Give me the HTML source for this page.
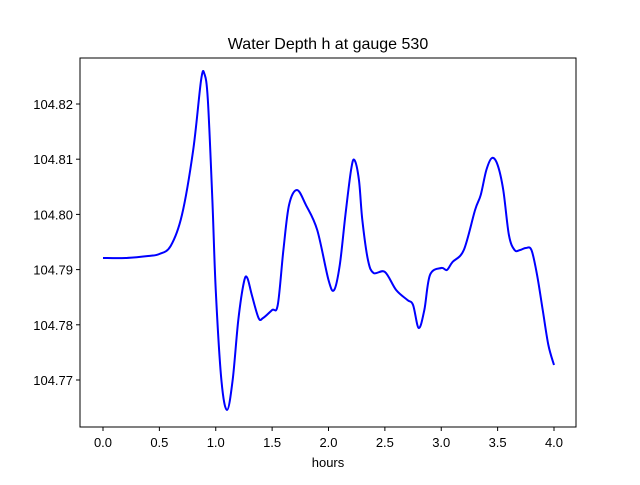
<!DOCTYPE html>
<html><head><meta charset="utf-8"><style>
body{margin:0;background:#fff;}
svg{font-family:"Liberation Sans","DejaVu Sans",sans-serif;}
</style></head><body>
<svg id="chart" width="640" height="480" xmlns="http://www.w3.org/2000/svg">
<rect width="640" height="480" fill="#fff"/>
<text x="328" y="49" text-anchor="middle" font-size="16">Water Depth h at gauge 530</text>
<g id="ticks"></g>
<path id="series" fill="none" stroke="#0000ff" stroke-width="2"/>
<rect x="80" y="58" width="496" height="369" fill="none" stroke="#000" stroke-width="1"/>
<text x="328" y="467" text-anchor="middle" font-size="13">hours</text>
</svg>
<script>
const hours=[0,0.2,0.4,0.5,0.6,0.7,0.8,0.87,0.9,0.93,0.97,1.0,1.05,1.1,1.15,1.2,1.25,1.28,1.32,1.38,1.42,1.5,1.55,1.6,1.65,1.72,1.8,1.9,2.0,2.05,2.1,2.15,2.2,2.23,2.27,2.3,2.35,2.4,2.5,2.6,2.7,2.75,2.8,2.85,2.9,3.0,3.05,3.1,3.2,3.3,3.35,3.4,3.45,3.5,3.55,3.6,3.65,3.7,3.75,3.8,3.85,3.9,3.95,4.0];
const depthPx=[258,258,256,254,246,215,150,80,74,100,200,290,380,410,380,320,282,278,295,318,318,310,305,250,205,190,205,230,280,290,265,215,170,160,180,220,260,273,272,290,300,305,328,310,275,268,270,262,250,210,195,170,158,165,190,235,250,250,248,250,275,310,345,365];
const depth=depthPx.map(p=>+(104.82-(p-104)/5520).toFixed(5));
const xTicks=[0,0.5,1,1.5,2,2.5,3,3.5,4];
const xTickLabels=["0.0","0.5","1.0","1.5","2.0","2.5","3.0","3.5","4.0"];
const yTicks=[104.77,104.78,104.79,104.80,104.81,104.82];
const yTickLabels=["104.77","104.78","104.79","104.80","104.81","104.82"];
const X=v=>103+v*112.75;
const Y=v=>104-(v-104.82)*5520;
const ns="http://www.w3.org/2000/svg";
const g=document.getElementById('ticks');
function mk(t,a){const e=document.createElementNS(ns,t);for(const k in a)e.setAttribute(k,a[k]);g.appendChild(e);return e;}
xTicks.forEach((v,i)=>{
 const l=mk('line',{x1:X(v),x2:X(v),y1:427,y2:431,stroke:'#000'});
 
 
 const t=mk('text',{x:X(v),y:447,'text-anchor':'middle','font-size':'13'});
 
 
 t.textContent=xTickLabels[i];
});
yTicks.forEach((v,i)=>{
 const l=mk('line',{x1:76,x2:80,y1:Y(v),y2:Y(v),stroke:'#000'});
 
 
 const t=mk('text',{x:73,y:Y(v)+5,'text-anchor':'end','font-size':'13'});
 
 
 t.textContent=yTickLabels[i];
});
const pts=hours.map((h,i)=>[X(h),Y(depth[i])]);
let d='M'+pts[0][0]+','+pts[0][1];
for(let i=0;i<pts.length-1;i++){
 const p0=pts[Math.max(0,i-1)],p1=pts[i],p2=pts[i+1],p3=pts[Math.min(pts.length-1,i+2)];
 const c1=[p1[0]+(p2[0]-p0[0])/6,p1[1]+(p2[1]-p0[1])/6];
 const c2=[p2[0]-(p3[0]-p1[0])/6,p2[1]-(p3[1]-p1[1])/6];
 d+=' C'+c1+' '+c2+' '+p2;
}
document.getElementById('series').setAttribute('d',d);
</script>
</body></html>
